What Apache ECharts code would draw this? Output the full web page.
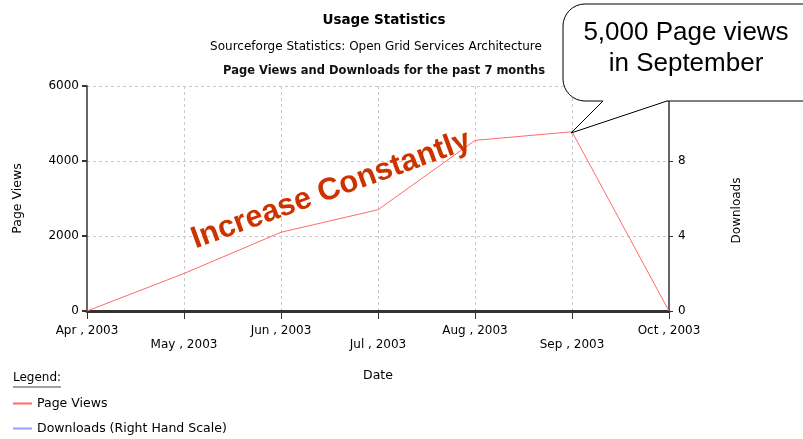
<!doctype html>
<html>
<head>
    <meta charset="utf-8">
    <title>Usage Statistics</title>
    <script src="https://cdn.jsdelivr.net/npm/echarts@6/dist/echarts.min.js"></script>
    <style>
        html, body { margin: 0; padding: 0; background: #fff; }
        #Chart { width: 803px; height: 439px; }
    </style>
</head>
<body>
    <div id="Chart"></div>
<script>
    // months on the x axis
    var months = ['Apr , 2003', 'May , 2003', 'Jun , 2003', 'Jul , 2003', 'Aug , 2003', 'Sep , 2003', 'Oct , 2003'];
    // values
    var pageViews = [0, 1000, 2100, 2700, 4550, 4780, 0];
    var downloads = [0, 0, 0, 0, 0, 0, 0];

    var baseFont = 'DejaVu Sans';
    var myChart = echarts.init(document.getElementById('Chart'), null, { renderer: 'canvas' });

    var option = {
        animation: false,
        backgroundColor: '#fff',
        title: [{
            text: 'Usage Statistics',
            left: 379, top: 8, textAlign: 'center',
            textStyle: { fontFamily: baseFont, fontSize: 13.5, fontWeight: 'bold', color: '#000' }
        }, {
            text: 'Sourceforge Statistics: Open Grid Services Architecture',
            left: 371, top: 36, textAlign: 'center',
            textStyle: { fontFamily: baseFont, fontSize: 12, fontWeight: 'normal', color: '#000' }
        }, {
            text: 'Page Views and Downloads for the past 7 months',
            left: 379, top: 60, textAlign: 'center',
            textStyle: { fontFamily: baseFont, fontSize: 11.5, fontWeight: 'bold', color: '#111' }
        }],
        grid: { left: 87, right: 134, top: 86, bottom: 128 },
        legend: {
            orient: 'vertical',
            left: 13, top: 397,
            height: 60,
            padding: 0,
            itemGap: 12,
            itemWidth: 19, itemHeight: 2,
            icon: 'rect',
            textStyle: { fontFamily: baseFont, fontSize: 12.5, color: '#000' },
            data: ['Page Views', 'Downloads (Right Hand Scale)']
        },
        xAxis: {
            type: 'category',
            boundaryGap: false,
            data: months,
            name: 'Date',
            nameLocation: 'middle',
            nameGap: 58,
            nameTextStyle: { fontFamily: baseFont, fontSize: 12.5, color: '#000' },
            axisLine: { lineStyle: { color: '#333', width: 3 } },
            axisTick: { show: true, length: 8, lineStyle: { color: '#333', width: 1 } },
            axisLabel: {
                interval: 0,
                margin: 13,
                lineHeight: 14,
                fontFamily: baseFont, fontSize: 12, color: '#000',
                formatter: function (value, idx) {
                    return idx % 2 === 1 ? '\n' + value : value;
                }
            },
            splitLine: { show: true, lineStyle: { color: '#c8c8c8', type: [3, 3], width: 1 } }
        },
        yAxis: [{
            type: 'value',
            min: 0, max: 6000, interval: 2000,
            name: 'Page Views',
            nameLocation: 'middle',
            nameGap: 63,
            nameRotate: 90,
            nameTextStyle: { fontFamily: baseFont, fontSize: 12.5, color: '#000' },
            axisLine: { show: true, lineStyle: { color: '#666', width: 2 } },
            axisTick: { show: true, length: 5, lineStyle: { color: '#333', width: 2 } },
            axisLabel: {
                margin: 8, fontFamily: baseFont, fontSize: 12, color: '#000',
                formatter: function (v) { return String(v); }
            },
            splitLine: { show: true, lineStyle: { color: '#c8c8c8', type: [3, 3], width: 1 } }
        }, {
            type: 'value',
            min: 0, max: 12, interval: 4,
            position: 'right',
            name: 'Downloads',
            nameLocation: 'middle',
            nameGap: 62,
            nameRotate: 90,
            nameTextStyle: { fontFamily: baseFont, fontSize: 12, color: '#000', padding: [0, 24, 0, 0] },
            axisLine: { show: true, lineStyle: { color: '#666', width: 2 } },
            axisTick: { show: true, length: 4, lineStyle: { color: '#333', width: 1 } },
            axisLabel: { margin: 9, fontFamily: baseFont, fontSize: 12, color: '#000' },
            splitLine: { show: false }
        }],
        series: [{
            name: 'Page Views',
            type: 'line',
            yAxisIndex: 0,
            symbol: 'none',
            color: '#ff6b6b',
            lineStyle: { color: '#ff6b6b', width: 1 },
            data: pageViews
        }, {
            name: 'Downloads (Right Hand Scale)',
            type: 'line',
            yAxisIndex: 1,
            symbol: 'none',
            color: '#9999ff',
            lineStyle: { color: '#9999ff', width: 1 },
            z: -1,
            data: downloads
        }],
        graphic: [{
            type: 'text',
            x: 13, y: 372,
            style: { text: 'Legend:', fontFamily: baseFont, fontSize: 12, fill: '#000' }
        }, {
            type: 'line',
            shape: { x1: 13, y1: 387, x2: 61, y2: 387 },
            style: { stroke: '#444', lineWidth: 1 }
        }, {
            type: 'text',
            x: 331, y: 190,
            rotation: 20 * Math.PI / 180,
            z: 50,
            style: {
                text: 'Increase Constantly',
                fontFamily: 'Liberation Sans', fontSize: 31, fontWeight: 'bold',
                fill: '#cc3300', align: 'center', verticalAlign: 'middle'
            }
        }, {
            // callout bubble
            type: 'rect',
            z: 100,
            shape: { x: 563, y: 4, width: 262, height: 97, r: 22 },
            style: { fill: '#fff', stroke: '#000', lineWidth: 1 }
        }, {
            type: 'polygon',
            z: 101,
            shape: { points: [[604, 98], [666, 98], [667, 102], [571, 133], [603, 101]] },
            style: { fill: '#fff', stroke: null }
        }, {
            type: 'polyline',
            z: 102,
            shape: { points: [[603, 101], [571, 133], [667, 101]] },
            style: { fill: null, stroke: '#000', lineWidth: 1 }
        }, {
            type: 'text',
            x: 686, y: 48,
            z: 103,
            style: {
                text: '5,000 Page views\nin September',
                fontFamily: 'Liberation Sans', fontSize: 26, lineHeight: 31,
                fill: '#000', align: 'center', verticalAlign: 'middle'
            }
        }]
    };
    myChart.setOption(option);
</script>
</body>
</html>
